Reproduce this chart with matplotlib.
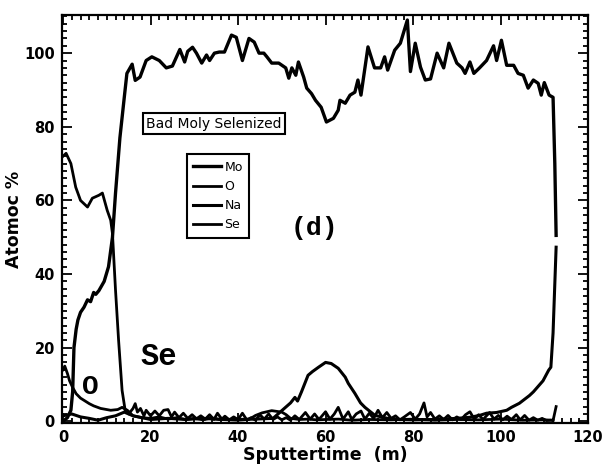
import matplotlib
matplotlib.use("Agg")
import matplotlib.pyplot as plt
from matplotlib.ticker import MultipleLocator

# Mo depth profile
mo_x = [0, 1, 1.8, 2.2, 2.5, 3, 3.4, 4, 4.8, 5.6, 6.3, 7, 7.5, 8.2, 9.4, 10.4, 11.3, 12, 13, 14,
        14.6, 15.8, 16.5, 17.6, 19, 20.3, 22, 23.6, 25, 26.7, 27.8, 28.5, 29.6, 30.5, 31.7, 32.8,
        33.5, 34.6, 35.7, 36.9, 38.5, 39.6, 41, 42.5, 43.7, 44.8, 45.9, 46.6, 47.7, 49.3, 50.9,
        51.6, 52.3, 53.2, 53.8, 55, 55.7, 56.8, 57.7, 59, 60.2, 61.8, 62.9, 63.3, 64.5, 65.6, 66.7,
        67.4, 68.1, 69.7, 71.2, 72.6, 73.5, 74.2, 75.8, 77.1, 78.7, 79.4, 80.5, 81.7, 82.8, 84,
        85.5, 87, 88.2, 90, 91.2, 91.9, 93, 93.9, 95.2, 96.8, 98.4, 99.1, 100.2, 101.4, 103, 104,
        105.2, 106.3, 107.5, 108.6, 109.3, 110, 111.1, 112, 112.4, 112.7]
mo_y = [0, 1, 3, 8, 20, 25, 27.5, 29.6, 31, 33, 32.5, 35, 34.5, 35.5, 38, 42, 50, 62, 77, 88,
        94.5, 97, 92.6, 93.5, 98, 99, 98, 96, 96.5, 101, 97.6, 100.5, 101.6, 100, 97.3, 99.5,
        98, 100, 100.3, 100.3, 104.9, 104.3, 98, 104, 103, 100, 100, 99, 97.3, 97.3, 96,
        93.2, 96, 94, 97.6, 93.5, 90.5, 89, 87.2, 85.3, 81.3, 82.3, 84.5, 87.2, 86.4, 88.6, 89.4,
        92.7, 88.6, 101.7, 96, 96, 99, 95.4, 100.8, 102.7, 109, 95, 102.7, 96.2, 92.7, 93,
        100, 96, 102.7, 97.3, 96, 94.5, 97.6, 94.5, 96, 98, 102, 98, 103.5, 96.7, 96.7, 94.5,
        94, 90.5, 92.7, 91.8, 88.6, 92, 88.6, 88, 70, 50.5]

# O depth profile
o_x = [0, 0.4, 1, 1.5, 2.2, 3, 4, 4.8, 6, 7, 8.6, 10.9, 12.5, 13.5, 14.7, 16, 18, 20, 22, 24,
       26, 28, 30, 32, 34, 36, 38, 40, 42.5, 44, 45.5, 47.7, 50, 51, 52, 54, 56, 58, 60, 63, 66,
       70, 75, 80, 85, 90, 95, 100, 105, 110, 112]
o_y = [14, 15, 13, 11, 9.2, 7.5, 6.3, 5.7, 4.8, 4.2, 3.5, 3, 3.2, 3.8, 3, 1.5, 1, 0.8, 1.2, 0.6,
       1, 0.5, 0.8, 0.4, 0.9, 0.5, 0.4, 0.3, 0.5, 1.6, 2.3, 2.9, 2.5, 1.8, 0.8, 0.5, 0.6, 0.4, 0.5,
       0.6, 0.3, 0.5, 0.4, 0.6, 0.3, 0.5, 0.4, 0.6, 0.3, 0.4, 0.3]

# Na depth profile
na_x = [0, 2, 4, 6, 8, 10, 12, 14, 16, 18, 20, 24, 28, 32, 36, 40, 44, 48, 52, 53, 53.6, 54.5,
        56, 57, 58.4, 60, 61.3, 62.9, 64.5, 65.2, 66.7, 68, 69, 71.3, 74.2, 77, 80, 85, 90, 93,
        95.2, 96.8, 99.1, 101.4, 102.5, 104.3, 106.6, 107.5, 109.7, 111, 111.5, 112, 112.7]
na_y = [1.5, 2, 1.2, 0.8, 0.3, 1, 1.5, 2.5, 1.5, 1, 0.5, 0.8, 0.5, 0.8, 0.5, 0.5, 0.6, 0.8, 5,
        6.5, 5.5, 8, 12.5, 13.5, 14.7, 16, 15.7, 14.4, 12, 10.3, 7.6, 5, 3.8, 1.6, 0.8, 0.5, 0.4,
        0.5, 0.8, 1.1, 1.6, 2.2, 2.4, 3, 3.8, 4.9, 7, 8, 11, 13.9, 14.7, 24, 47.3]

# Se depth profile
se_x = [0, 0.7, 1.8, 2.9, 4, 5.6, 6.7, 8.2, 9, 10.1, 10.9, 11.3, 12, 12.7, 13.5, 14.2, 15, 16,
        16.5, 17, 17.7, 18.5, 19, 20, 21, 22, 23, 24, 24.8, 25.5, 26.5, 27.5, 28.5, 29.5, 30.5,
        31.5, 32.5, 33.5, 34.5, 35.3, 36.3, 37, 38, 39, 40, 41, 42, 43, 44, 45, 46, 47, 48, 49,
        50, 51, 52, 53, 54, 55.4, 56.5, 57.5, 58.5, 60, 61, 62, 62.9, 64, 65.2, 66, 67, 68.1, 69,
        70, 71, 72, 73, 74, 75, 76, 77, 78, 79.4, 80.5, 81.5, 82.5, 83.2, 84, 85, 86, 87, 88, 89,
        90, 91, 92, 93, 94, 95, 96, 97.5, 98.5, 99.5, 100.5, 101.5, 102.5, 103.6, 104.5, 105.5,
        106.5, 107.5, 108.5, 109.5, 110.5, 111.5, 112, 112.7]
se_y = [72, 72.8, 70, 63.6, 60, 58.2, 60.6, 61.4, 62, 57.3, 54.6, 51, 35.6, 22, 8.4, 3, 2, 3.5,
        4.8, 2.5, 3.5, 1.5, 3, 1.5, 2.8, 1.5, 3, 3.2, 1.2, 2.5, 1, 2.2, 0.8, 1.8, 0.7,
        1.5, 0.6, 1.8, 0.5, 2.2, 0.6, 1.4, 0.4, 1.2, 0.5, 2.2, 0.4, 1, 0.3, 1.8, 0.6, 2, 0.5, 1.2,
        0.4, 1, 0.3, 1.5, 0.5, 2.4, 0.6, 2, 0.5, 2.6, 0.6, 2, 3.8, 0.6, 2.6, 0.5, 2, 2.8, 0.6,
        2.2, 0.8, 3, 1, 2.4, 0.8, 1.5, 0.4, 1.2, 2.4, 0.6, 2, 5, 1.2, 2.4, 0.6, 1.5, 0.5, 1.6, 0.4,
        1.2, 0.5, 1.8, 2.6, 0.6, 1.8, 0.5, 2.4, 0.6, 1.6, 0.4, 1.4, 0.5, 1.8, 0.4, 1.6,
        0.3, 1, 0.3, 0.8, 0.2, 0.3, 0.2, 4]

fig = plt.figure(figsize=(6.05, 4.76), dpi=100)
ax = fig.add_axes([0.102, 0.111, 0.870, 0.857])

ax.plot(mo_x, mo_y, color="black", lw=2.4, label="Mo")
ax.plot(o_x, o_y, color="black", lw=2.0, label="O")
ax.plot(na_x, na_y, color="black", lw=2.2, label="Na")
ax.plot(se_x, se_y, color="black", lw=2.0, label="Se")

ax.set_xlim(-0.3, 120)
ax.set_ylim(-0.5, 110.3)
ax.xaxis.set_major_locator(MultipleLocator(20))
ax.xaxis.set_minor_locator(MultipleLocator(2))
ax.yaxis.set_major_locator(MultipleLocator(20))
ax.yaxis.set_minor_locator(MultipleLocator(2))
ax.tick_params(which="both", direction="in", top=True, right=True, width=1.3, colors="black")
ax.tick_params(which="major", length=7, labelsize=10.5, pad=5)
ax.tick_params(which="minor", length=3.5)
for lab in ax.get_xticklabels() + ax.get_yticklabels():
    lab.set_fontweight("bold")
for sp in ax.spines.values():
    sp.set_linewidth(1.6)

ax.set_xlabel("Sputtertime  (m)", fontsize=12.5, fontweight="bold", labelpad=1)
ax.set_ylabel("Atomoc %", fontsize=12.5, fontweight="bold", labelpad=1)

ax.text(34.5, 80.8, "Bad Moly Selenized", fontsize=10, ha="center", va="center",
        bbox=dict(boxstyle="square,pad=0.25", fc="white", ec="black", lw=1.5))

leg = ax.legend(loc="upper left", bbox_to_anchor=(0.226, 0.674), fontsize=9,
                handlelength=2.2, handletextpad=0.3, labelspacing=0.5,
                borderpad=0.5, fancybox=False, framealpha=1, edgecolor="black")
leg.get_frame().set_linewidth(1.5)

ax.text(57.5, 52.5, "(d)", fontsize=19, fontweight="bold", family="Liberation Mono",
        ha="center", va="center")
ax.text(21.8, 17.4, "Se", fontsize=22, fontweight="bold", family="Liberation Mono",
        ha="center", va="center")
ax.text(6.3, 9.2, "O", fontsize=20, fontweight="bold", family="Liberation Mono",
        ha="center", va="center")

fig.savefig("out.png", dpi=100)
